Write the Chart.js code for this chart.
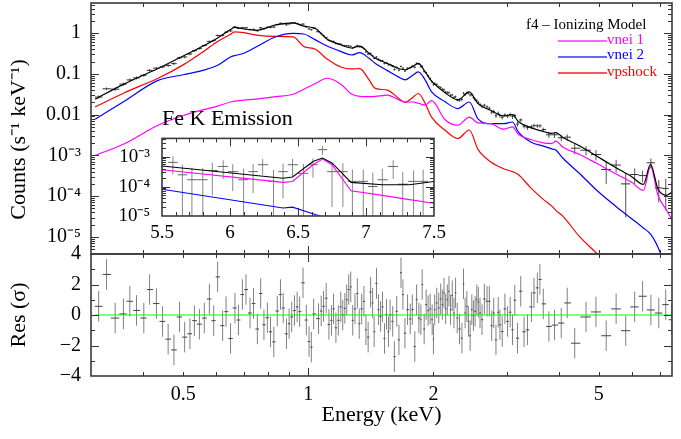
<!DOCTYPE html>
<html>
<head>
<meta charset="utf-8">
<script src="https://cdn.jsdelivr.net/npm/chart.js@4.4.1/dist/chart.umd.min.js"></script>
<style>
html, body { margin: 0; padding: 0; background: #fff; }
#wrap { position: relative; width: 681px; height: 439px; overflow: hidden; font-family: 'Liberation Serif', 'Times New Roman', serif; }
#wrap canvas { position: absolute; left: 0; top: 0; }
.leg { position: absolute; font-size: 15px; line-height: 15px; white-space: nowrap; }
</style>
</head>
<body>
<div id="wrap">
  <canvas id="main" width="681" height="439"></canvas>
  <canvas id="res" width="681" height="439"></canvas>
  <canvas id="inset" width="681" height="439"></canvas>
  <div class="leg" style="left:526px;top:17px;color:#000">f4 – Ionizing Model</div>
  <div style="position:absolute;left:558px;top:40px;width:49px;height:0;border-bottom:2px solid #ff66ff"></div>
  <div class="leg" style="left:607px;top:32px;color:#ff00ff">vnei 1</div>
  <div style="position:absolute;left:558px;top:56px;width:49px;height:0;border-bottom:2px solid #6666ff"></div>
  <div class="leg" style="left:607px;top:47px;color:#0000ff">vnei 2</div>
  <div style="position:absolute;left:558px;top:72px;width:49px;height:0;border-bottom:2px solid #ff5555"></div>
  <div class="leg" style="left:607px;top:64px;color:#ff0000">vpshock</div>
</div>
<script>
// model curves (keV, counts s^-1 keV^-1)
var modelE = [0.307,0.36,0.435,0.50,0.56,0.605,0.65,0.665,0.70,0.75,
  0.835,0.92,0.975,1.04,1.11,1.20,1.27,1.33,1.40,1.45,
  1.55,1.65,1.71,1.78,1.84,1.91,1.98,2.13,2.29,2.44,
  2.56,2.75,2.95,3.10,3.20,3.43,3.70,3.85,3.94,4.10,
  4.50,4.95,5.50,6.00,6.40,6.66,6.94,7.28,7.50];
var totalModel = [0.024,0.056,0.135,0.275,0.49,0.76,1.23,1.38,1.26,1.17,
  1.58,1.78,1.48,1.29,0.71,0.51,0.43,0.48,0.32,0.24,
  0.18,0.135,0.126,0.15,0.18,0.112,0.066,0.035,0.023,0.036,
  0.0186,0.0126,0.0093,0.010,0.0068,0.0048,0.0038,0.00347,0.00363,0.00275,
  0.0017,0.00095,0.0005,0.0003,0.000195,0.0006,0.00015,0.000105,0.000126];
var vnei1 = [0.001,0.0019,0.0055,0.0095,0.0132,0.0162,0.0204,0.0214,0.0226,0.024,
  0.0275,0.0316,0.042,0.058,0.078,0.055,0.032,0.028,0.0275,0.028,
  0.030,0.023,0.0204,0.0204,0.019,0.017,0.022,0.0076,0.0055,0.0087,
  0.0063,0.006,0.0044,0.005,0.0033,0.00245,0.002,0.00195,0.00224,0.00158,
  0.00105,0.00063,0.00035,0.00022,0.000138,0.00054,0.000105,0.000045,0.000026];
var vnei2 = [0.0077,0.021,0.069,0.095,0.123,0.162,0.26,0.28,0.32,0.46,
  0.81,0.98,0.95,0.68,0.48,0.35,0.29,0.33,0.24,0.18,
  0.12,0.083,0.071,0.091,0.112,0.071,0.036,0.021,0.0141,0.0204,
  0.0079,0.006,0.006,0.0066,0.0038,0.00214,0.00166,0.00145,0.00135,0.00085,
  0.000355,0.000138,0.000056,0.000028,0.0000166,0.0000117,0.0000056,0.0000016,null];
var vpshock = [0.0155,0.034,0.078,0.166,0.355,0.62,0.93,1.07,1.02,0.89,
  0.83,0.81,0.47,0.40,0.23,0.145,0.132,0.135,0.071,0.044,
  0.040,0.025,0.020,0.026,0.033,0.019,0.0087,0.0042,0.0026,0.0042,
  0.0014,0.00069,0.00047,0.0004,0.00034,0.00016,0.000079,0.000058,0.000045,0.000032,
  0.00001,0.0000039,0.0000013,null,null,null,null,null,null];

// binned spectrum: bin centre, counts, 1 sigma error, residual (sigma)
var dataE = [0.313,0.327,0.343,0.359,0.372,0.386,0.402,0.415,0.431,0.446,
  0.460,0.475,0.490,0.504,0.519,0.532,0.547,0.562,0.578,0.592,
  0.605,0.622,0.634,0.650,0.666,0.679,0.694,0.708,0.724,0.738,
  0.754,0.768,0.782,0.797,0.811,0.826,0.842,0.857,0.870,0.886,
  0.899,0.912,0.926,0.940,0.953,0.971,0.989,1.004,1.017,1.030,
  1.058,1.074,1.088,1.104,1.121,1.137,1.150,1.165,1.181,1.197,
  1.210,1.224,1.237,1.251,1.265,1.279,1.295,1.312,1.326,1.344,
  1.361,1.376,1.393,1.412,1.428,1.440,1.459,1.475,1.492,1.508,
  1.525,1.542,1.559,1.573,1.596,1.611,1.632,1.652,1.671,1.689,
  1.708,1.733,1.759,1.779,1.804,1.822,1.845,1.866,1.879,1.900,
  1.921,1.942,1.964,1.986,2.000,2.014,2.037,2.060,2.082,2.101,
  2.121,2.140,2.160,2.180,2.199,2.220,2.241,2.261,2.282,2.311,
  2.342,2.363,2.384,2.407,2.428,2.451,2.474,2.496,2.519,2.543,
  2.565,2.589,2.618,2.652,2.692,2.726,2.762,2.793,2.828,2.864,
  2.891,2.928,2.972,3.016,3.060,3.100,3.139,3.186,3.244,3.304,
  3.367,3.442,3.491,3.557,3.608,3.676,3.792,3.912,4.060,4.197,
  4.375,4.658,4.921,5.209,5.503,5.804,6.099,6.373,6.672,6.970,
  7.244,7.489];
var dataV = [0.027,0.043,0.0421,0.0559,0.0709,0.0797,0.0922,0.122,0.138,0.148,
  0.160,0.178,0.247,0.259,0.306,0.369,0.419,0.495,0.623,0.655,
  0.873,0.878,1.05,1.13,1.41,1.31,1.36,1.35,1.22,1.23,
  1.14,1.35,1.28,1.38,1.38,1.40,1.62,1.74,1.70,1.60,
  1.68,1.75,1.78,1.71,1.61,1.66,1.42,1.27,1.21,1.32,
  1.08,0.97,0.87,0.78,0.66,0.632,0.622,0.556,0.54,0.533,
  0.499,0.491,0.488,0.485,0.472,0.427,0.457,0.495,0.462,0.449,
  0.415,0.347,0.306,0.318,0.281,0.239,0.259,0.228,0.212,0.21,
  0.18,0.186,0.167,0.169,0.154,0.128,0.144,0.123,0.152,0.138,
  0.118,0.137,0.142,0.154,0.145,0.181,0.173,0.149,0.153,0.114,
  0.107,0.0894,0.0763,0.0633,0.0546,0.0581,0.0547,0.0483,0.0463,0.0418,
  0.0408,0.0355,0.035,0.0345,0.0299,0.0303,0.0264,0.0275,0.023,0.0226,
  0.0236,0.0335,0.031,0.0344,0.0338,0.0305,0.0307,0.0264,0.0237,0.0222,
  0.0199,0.0177,0.0161,0.0169,0.0154,0.0143,0.0115,0.0119,0.0094,0.0108,
  0.0095,0.0086,0.0098,0.0092,0.01,0.0089,0.0095,0.0059,0.0074,0.0052,
  0.0048,0.005,0.0054,0.0053,0.0053,0.0043,0.0032,0.0032,0.0027,0.0028,
  0.0015,0.00134,0.00105,0.00045,0.00058,0.0002,0.00034,0.00032,0.00066,0.00016,
  0.000155,0.000115];
var dataErr = [0.0026,0.0033,0.0041,0.005,0.0058,0.0066,0.0078,0.0087,0.01,0.011,
  0.013,0.015,0.017,0.0186,0.0216,0.024,0.028,0.03,0.035,0.04,
  0.046,0.05,0.055,0.064,0.07,0.066,0.064,0.062,0.06,0.06,
  0.06,0.063,0.066,0.07,0.073,0.077,0.08,0.082,0.083,0.085,
  0.087,0.088,0.088,0.083,0.08,0.075,0.072,0.07,0.068,0.066,
  0.055,0.048,0.043,0.037,0.034,0.032,0.031,0.03,0.028,0.027,
  0.026,0.025,0.024,0.023,0.022,0.022,0.023,0.023,0.024,0.022,
  0.02,0.018,0.017,0.015,0.014,0.013,0.012,0.011,0.011,0.01,
  0.01,0.0095,0.009,0.0093,0.0087,0.0083,0.008,0.0075,0.0073,0.0071,
  0.007,0.0074,0.008,0.0083,0.009,0.0095,0.0097,0.0085,0.0078,0.007,
  0.0062,0.0055,0.0048,0.0043,0.0042,0.004,0.0037,0.0034,0.0031,0.0029,
  0.0027,0.0026,0.0024,0.0024,0.0023,0.0021,0.0021,0.002,0.0019,0.002,
  0.0022,0.0023,0.0024,0.0026,0.0027,0.0027,0.0025,0.0023,0.0021,0.0019,
  0.0018,0.0017,0.0016,0.0015,0.0014,0.0013,0.0013,0.0012,0.0011,0.0011,
  0.0011,0.001,0.001,0.001,0.0011,0.0011,0.001,0.0008,0.0007,0.0006,
  0.0006,0.0006,0.0006,0.00056,0.00053,0.0005,0.00054,0.00053,0.0005,0.00049,
  0.00043,0.00035,0.0003,0.00025,0.0002,0.00017,0.00014,0.0001,0.00018,0.00009,
  0.00011,0.000114];
var resid = [0.57,2.66,-0.2,0.07,0.9,0.3,-0.2,1.67,0.75,-0.42,
  -1.58,-2.29,-0.13,-1.45,-1.23,-0.37,-0.6,-0.2,1.05,-0.37,
  2.5,-0.7,0.22,-1.54,0.46,-0.33,1.34,1.67,0.13,0.75,
  -0.92,1.41,-0.64,-0.18,-1.1,-1.76,0.26,1.34,0.46,-1.23,
  -0.57,-0.13,0.29,0.53,0.22,2.11,-0.33,-1.74,-2.11,0.07,
  -0.24,0.26,0.57,1.1,-0.62,-0.35,0.4,-0.84,-0.35,0.53,
  0,0.44,1.0,1.67,1.85,-0.35,0.4,1.41,-0.57,0.4,
  0.9,-0.97,-1.45,1.5,0.79,-1.1,2.07,0.35,-0.09,0.53,
  -1.54,0.04,-1.1,0,-0.42,-2.73,0.24,-1.63,2.77,1.34,
  -1.19,0.35,-0.26,0.35,-2.07,1.0,-0.2,-0.31,2.0,-0.92,
  0.68,0.29,0.4,-0.31,-1.58,0.35,0.79,0.46,1.05,0.68,
  1.45,0.4,1.0,1.56,0.35,1.27,0.13,1.45,-0.2,-0.92,
  -1.52,2.04,0.13,0.57,-0.42,-1.36,0.35,-0.04,0.24,1.0,
  0.84,0.13,-0.31,1.05,0.9,0.9,-0.7,0.13,-1.63,0.18,
  -0.64,-1.08,0.4,-0.42,0.18,-0.97,0.97,-1.52,1.56,-1.1,
  -0.97,0.53,1.45,1.78,2.33,0.73,-0.75,-0.66,-0.53,0.79,
  -1.85,-0.13,0.2,-1.36,0.4,-1.03,0.53,1.23,0.33,0.13,
  0.68,-0.31];

// Fe K inset
var insetModelE = [5.5,6.39,6.46,6.61,6.68,6.75,6.89,7.12,7.32,7.5];
var insetTotal = [5.0e-4,1.9e-4,2.1e-4,7.1e-4,9.3e-4,6.3e-4,1.38e-4,1.15e-4,1.15e-4,1.48e-4];
var insetVnei1 = [3.7e-4,1.38e-4,1.48e-4,5.5e-4,8.5e-4,5.5e-4,7.2e-5,5.0e-5,3.6e-5,2.7e-5];
var insetVnei2 = [8.1e-5,1.86e-5,2.0e-5,1.2e-5,9.3e-6,7.9e-6,null,null,null,null];
var insetE = [5.58,5.65,5.72,5.80,5.87,5.95,6.02,6.10,6.17,6.24,6.32,6.39,6.46,
  6.54,6.61,6.68,6.75,6.83,6.90,6.98,7.05,7.12,7.20,7.27,7.35,7.42];
var insetV = [6.6e-4,2.5e-4,1.7e-4,1.7e-4,3.5e-4,4.8e-4,3.2e-4,1.7e-4,3.2e-4,5.5e-4,1.5e-4,3.2e-4,5.5e-4,
  2.8e-4,5.5e-4,1.78e-3,3.2e-4,3.2e-4,1.5e-4,1.5e-4,1.0e-4,1.7e-4,4.8e-4,1.2e-4,1.5e-4,1.5e-4];
var insetErr = [4e-4,3e-4,2.5e-4,2.5e-4,3e-4,3e-4,2.5e-4,2.4e-4,2.6e-4,3e-4,2.2e-4,2.8e-4,3.3e-4,
  3e-4,3.5e-4,6e-4,3e-4,3e-4,2.3e-4,2.3e-4,2e-4,2.3e-4,3e-4,2e-4,2e-4,2.3e-4];

// axes
var xMin = 0.307, xMax = 7.5;
var xTicks = [0.4,0.5,0.6,0.7,0.8,0.9,1,2,3,4,5,6,7];
var xLabelTicks = [0.5,1,2,5];
var xLabels = ['0.5','1','2','5'];
var yMin = 3.82e-6, yMax = 5.46;
var yMainTicks = [1e-5,1e-4,1e-3,0.01,0.1,1];
var yMainLabels = ['10⁻⁵','10⁻⁴','10⁻³','0.01','0.1','1'];
var resTicks = [-4,-2,0,2,4];
var resLabels = ['−4','−2','0','2','4'];
var insetXLabelTicks = [5.5,6,6.5,7,7.5];
var insetXLabels = ['5.5','6','6.5','7','7.5'];
var insetYTicks = [1e-5,1e-4,1e-3];
var insetYLabels = ['10⁻⁵','10⁻⁴','10⁻³'];

var serif = "'Liberation Serif', 'Times New Roman', serif";
Chart.defaults.font.family = serif;
Chart.defaults.color = '#000';

function font(size) {
  return {family: serif, size: size, weight: 'normal'};
}

function pts(xs, ys) {
  return xs.map(function (x, i) { return {x: x, y: ys[i]}; });
}

// bin edges half way between neighbouring centres
function binEdges(xs, isLog) {
  var mid = isLog ? function (a, b) { return Math.sqrt(a * b); } : function (a, b) { return (a + b) / 2; };
  return xs.map(function (x, i) {
    var lo = i > 0 ? mid(xs[i - 1], x) : (isLog ? x * x / mid(x, xs[1]) : 2 * x - mid(x, xs[1]));
    var hi = i < xs.length - 1 ? mid(x, xs[i + 1]) : (isLog ? x * x / mid(xs[i - 1], x) : 2 * x - mid(xs[i - 1], x));
    return [lo, hi];
  });
}

// crosses as broken line segments (null breaks the line)
function crosses(xs, ys, errs, edges, floor) {
  var h = [], v = [];
  xs.forEach(function (x, i) {
    var e = Array.isArray(errs) ? errs[i] : errs;
    h.push({x: edges[i][0], y: ys[i]}, {x: edges[i][1], y: ys[i]}, {x: edges[i][1], y: null});
    var lo = ys[i] - e;
    if (floor !== null && lo < floor) lo = floor;
    v.push({x: x, y: lo}, {x: x, y: ys[i] + e}, {x: x, y: null});
  });
  return {h: h, v: v};
}

function line(data, color, width) {
  return {data: data, borderColor: color, borderWidth: width, pointRadius: 0,
    fill: false, tension: 0, spanGaps: false};
}

function curve(data, color, width) {
  var d = line(data, color, width);
  d.cubicInterpolationMode = 'monotone';
  return d;
}

function labelFor(value, ticks, labels) {
  for (var i = 0; i < ticks.length; i++) {
    if (Math.abs(value - ticks[i]) <= Math.abs(ticks[i]) * 1e-6 + 1e-9) return labels[i];
  }
  return '';
}

function logTicks(min, max) {
  var out = [];
  for (var e = Math.floor(Math.log10(min)); e <= Math.ceil(Math.log10(max)); e++) {
    for (var m = 1; m <= 9; m++) {
      var v = m * Math.pow(10, e);
      if (v >= min * 0.9999 && v <= max) out.push({value: v, major: m === 1});
    }
  }
  return out;
}

// inward ticks on all four sides plus the box
var frame = {
  id: 'frame',
  afterDatasetsDraw: function (chart) {
    var ctx = chart.ctx, a = chart.chartArea;
    ctx.save();
    ctx.strokeStyle = '#333';
    ctx.lineWidth = 1;
    ctx.beginPath();
    Object.keys(chart.scales).forEach(function (k) {
      var s = chart.scales[k];
      s.ticks.forEach(function (t) {
        var p = Math.round(s.getPixelForValue(t.value)) + 0.5;
        var len = t.major ? 8 : 4;
        if (s.isHorizontal()) {
          if (p < a.left + 1 || p > a.right - 1) return;
          ctx.moveTo(p, a.top); ctx.lineTo(p, a.top + len);
          ctx.moveTo(p, a.bottom); ctx.lineTo(p, a.bottom - len);
        } else {
          if (p < a.top + 1 || p > a.bottom - 1) return;
          ctx.moveTo(a.left, p); ctx.lineTo(a.left + len, p);
          ctx.moveTo(a.right, p); ctx.lineTo(a.right - len, p);
        }
      });
    });
    ctx.stroke();
    ctx.strokeStyle = '#3a3a3a';
    ctx.lineWidth = 1.6;
    ctx.strokeRect(a.left, a.top, a.right - a.left, a.bottom - a.top);
    ctx.restore();
  }
};

var noGrid = {display: false, drawTicks: false};
var noBorder = {display: false};

// ---- spectrum panel
var specEdges = binEdges(dataE, true);
var spec = crosses(dataE, dataV, dataErr, specEdges, 1e-9);

new Chart(document.getElementById('main'), {
  type: 'line',
  data: {
    datasets: [
      curve(pts(modelE, totalModel), '#000000', 1.2),
      curve(pts(modelE, vnei1), '#ff00ff', 1.2),
      curve(pts(modelE, vnei2), '#0000ff', 1.2),
      curve(pts(modelE, vpshock), '#ff0000', 1.2),
      line(spec.h, '#333333', 1),
      line(spec.v, '#555555', 1)
    ]
  },
  options: {
    responsive: false,
    devicePixelRatio: 1,
    animation: false,
    layout: {padding: {top: 3, right: 9, bottom: 185, left: 0}},
    plugins: {legend: {display: false}, tooltip: {enabled: false}},
    scales: {
      x: {
        type: 'logarithmic', min: xMin, max: xMax, display: false,
        afterBuildTicks: function (s) { s.ticks = xTicks.map(function (v) { return {value: v, major: v === 1}; }); }
      },
      y: {
        type: 'logarithmic', min: yMin, max: yMax,
        grid: noGrid, border: noBorder,
        afterBuildTicks: function (s) { s.ticks = logTicks(yMin, yMax); },
        afterFit: function (s) { s.width = 91; s.paddingTop = 0; s.paddingBottom = 0; },
        ticks: {
          autoSkip: false, padding: 10, color: '#000', font: font(20),
          callback: function (v) { return labelFor(v, yMainTicks, yMainLabels); }
        },
        title: {display: true, text: 'Counts (s⁻¹ keV⁻¹)\u00a0\u00a0\u00a0\u00a0', color: '#000',
          font: font(22), padding: {top: 6, bottom: 0}}
      }
    }
  },
  plugins: [frame]
});

// ---- residual panel
var resBars = crosses(dataE, resid, 1, specEdges, null);

new Chart(document.getElementById('res'), {
  type: 'line',
  data: {
    datasets: [
      line(pts([xMin, xMax], [0, 0]), '#00ff00', 1),
      line(resBars.h, '#444444', 1),
      line(resBars.v, '#808080', 1)
    ]
  },
  options: {
    responsive: false,
    devicePixelRatio: 1,
    animation: false,
    layout: {padding: {top: 254, right: 9, bottom: 0, left: 0}},
    plugins: {legend: {display: false}, tooltip: {enabled: false}},
    scales: {
      x: {
        type: 'logarithmic', min: xMin, max: xMax,
        grid: noGrid, border: noBorder,
        afterBuildTicks: function (s) { s.ticks = xTicks.map(function (v) { return {value: v, major: v === 1}; }); },
        afterFit: function (s) { s.height = 63; s.paddingLeft = 0; s.paddingRight = 0; },
        ticks: {
          autoSkip: false, maxRotation: 0, minRotation: 0, padding: 7, color: '#000', font: font(20),
          callback: function (v) { return labelFor(v, xLabelTicks, xLabels); }
        },
        title: {display: true, text: 'Energy (keV)', color: '#000', font: font(22), padding: {top: 0, bottom: 11}}
      },
      y: {
        type: 'linear', min: -4, max: 4,
        grid: noGrid, border: noBorder,
        afterBuildTicks: function (s) {
          s.ticks = [-4, -3, -2, -1, 0, 1, 2, 3, 4].map(function (v) { return {value: v, major: v % 2 === 0}; });
        },
        afterFit: function (s) { s.width = 91; s.paddingTop = 0; s.paddingBottom = 0; },
        ticks: {
          autoSkip: false, padding: 10, color: '#000', font: font(20),
          callback: function (v) { return labelFor(v, resTicks, resLabels); }
        },
        title: {display: true, text: 'Res (σ)', color: '#000', font: font(22), padding: {top: 6, bottom: 0}}
      }
    }
  },
  plugins: [frame]
});

// ---- Fe K inset
var insetEdges = binEdges(insetE, false);
var ins = crosses(insetE, insetV, insetErr, insetEdges, 1e-9);
var insetYMin = 1e-5, insetYMax = 4.3e-3;

new Chart(document.getElementById('inset'), {
  type: 'line',
  data: {
    datasets: [
      line(pts(insetModelE, insetTotal), '#000000', 1.1),
      line(pts(insetModelE, insetVnei1), '#ff00ff', 1.1),
      line(pts(insetModelE, insetVnei2), '#0000ff', 1.1),
      line(ins.h, '#666666', 1),
      line(ins.v, '#888888', 1)
    ]
  },
  options: {
    responsive: false,
    devicePixelRatio: 1,
    animation: false,
    layout: {padding: {top: 106, right: 247, bottom: 193, left: 100}},
    plugins: {
      legend: {display: false},
      tooltip: {enabled: false},
      title: {display: true, text: 'Fe K Emission', align: 'start', fullSize: false, color: '#000',
        font: font(22), padding: {top: 0, bottom: 6}}
    },
    scales: {
      x: {
        type: 'linear', min: 5.5, max: 7.5,
        grid: noGrid, border: noBorder,
        afterBuildTicks: function (s) {
          var t = [];
          for (var k = 55; k <= 75; k++) t.push({value: k / 10, major: k % 5 === 0});
          s.ticks = t;
        },
        afterFit: function (s) { s.height = 30; s.paddingLeft = 0; s.paddingRight = 0; },
        ticks: {
          autoSkip: false, maxRotation: 0, minRotation: 0, padding: 6, color: '#000', font: font(19),
          callback: function (v) { return labelFor(v, insetXLabelTicks, insetXLabels); }
        }
      },
      y: {
        type: 'logarithmic', min: insetYMin, max: insetYMax,
        grid: noGrid, border: noBorder,
        afterBuildTicks: function (s) { s.ticks = logTicks(insetYMin, insetYMax); },
        afterFit: function (s) { s.width = 62; s.paddingTop = 0; s.paddingBottom = 0; },
        ticks: {
          autoSkip: false, padding: 12, color: '#000', font: font(19),
          callback: function (v) { return labelFor(v, insetYTicks, insetYLabels); }
        }
      }
    }
  },
  plugins: [frame]
});
</script>
</body>
</html>
